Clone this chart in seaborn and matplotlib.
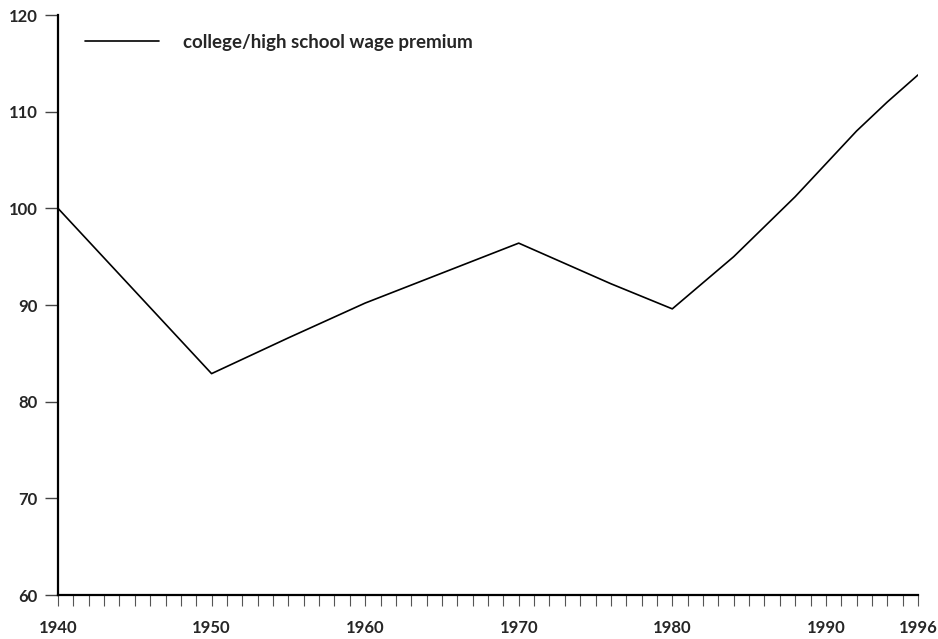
import matplotlib

matplotlib.use("Agg")
import matplotlib.pyplot as plt
from matplotlib.ticker import MultipleLocator
import pandas as pd
import seaborn as sns

# college/high school wage premium, index 1940 = 100
years = [1940, 1950, 1955, 1960, 1970, 1976, 1980, 1984, 1986, 1988, 1990, 1992, 1994, 1996]
premium = [100.0, 82.9, 86.6, 90.2, 96.4, 92.2, 89.6, 95.0, 98.1, 101.2, 104.6, 108.0, 111.0, 113.8]
series_label = "college/high school wage premium"
x_ticks = [1940, 1950, 1960, 1970, 1980, 1990, 1996]
y_ticks = [60, 70, 80, 90, 100, 110, 120]

df = pd.DataFrame({"year": years, "premium": premium, "series": series_label})

sns.set_style("ticks")
plt.rcParams["font.family"] = ["Lato", "DejaVu Sans"]
plt.rcParams["font.weight"] = "bold"

fig = plt.figure(figsize=(9.38, 6.39), dpi=100)
ax = fig.add_axes([58 / 938, 1 - 595 / 639, 860 / 938, 580 / 639])

sns.lineplot(data=df, x="year", y="premium", hue="series", palette=["black"],
             linewidth=1.2, ax=ax)

ax.set_xlim(1940, 1996)
ax.set_ylim(60, 120)
ax.set_xticks(x_ticks)
ax.set_xticklabels([str(t) for t in x_ticks], fontsize=12, fontweight="bold")
ax.xaxis.set_minor_locator(MultipleLocator(1))
ax.set_yticks(y_ticks)
ax.set_yticklabels([str(t) for t in y_ticks], fontsize=12, fontweight="bold")
ax.set_xlabel("")
ax.set_ylabel("")

sns.despine(ax=ax)
for side in ("left", "bottom"):
    ax.spines[side].set_linewidth(1.6)
    ax.spines[side].set_color("black")

ax.tick_params(axis="x", which="both", direction="out", length=8, width=0.8,
               color="#555555", pad=10)
ax.tick_params(axis="y", which="major", direction="out", length=9.5, width=1.0,
               color="#444444", pad=5)

ax.legend(loc="upper left", bbox_to_anchor=(0.012, 0.997), frameon=False,
          handlelength=3.95, handletextpad=1.28,
          prop={"family": "Lato", "weight": "bold", "size": 13.5})

fig.savefig("out.png", dpi=100)
